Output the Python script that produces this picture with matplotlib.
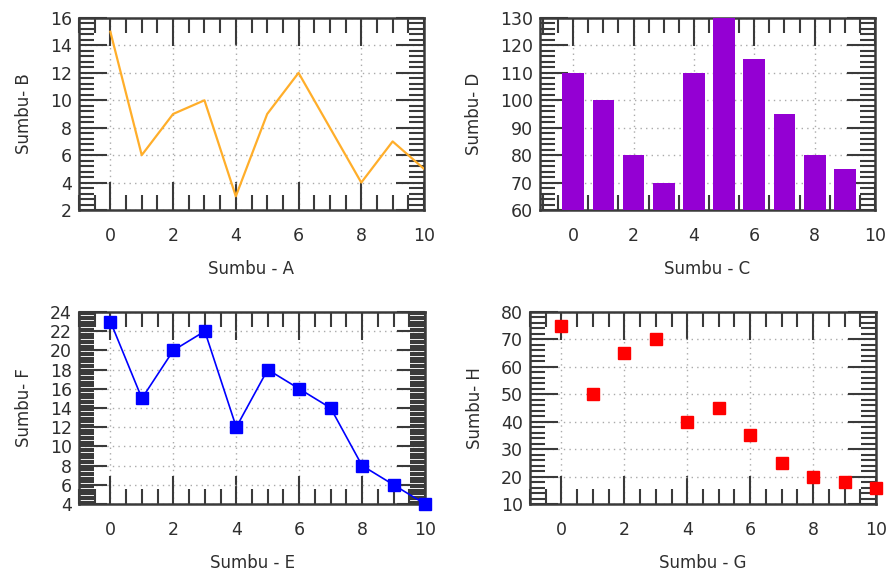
import numpy as np
import matplotlib
matplotlib.use("Agg")
import matplotlib.pyplot as plt
from matplotlib.ticker import MultipleLocator

# data
x_a = [0, 1, 2, 3, 4, 5, 6, 7, 8, 9, 10]
y_b = [15, 6, 9, 10, 3, 9, 12, 8, 4, 7, 5]

x_c = [0, 1, 2, 3, 4, 5, 6, 7, 8, 9]
y_d = [110, 100, 80, 70, 110, 130, 115, 95, 80, 75]

x_e = [0, 1, 2, 3, 4, 5, 6, 7, 8, 9, 10]
y_f = [23, 15, 20, 22, 12, 18, 16, 14, 8, 6, 4]

x_g = [0, 1, 2, 3, 4, 5, 6, 7, 8, 9, 10]
y_h = [75, 50, 65, 70, 40, 45, 35, 25, 20, 18, 16]

TXT = "#2e2e2e"
FRAME = "#3a3a3a"

plt.rcParams["font.family"] = "DejaVu Sans"

fig = plt.figure(figsize=(8.91, 5.81), dpi=100)
W, H = 891, 581


def make_axes(l, t, r, b):
    return fig.add_axes([l / W, 1 - b / H, (r - l) / W, (b - t) / H])


def style(ax, xlim, ylim, ymaj, ymin, xlabel, ylabel):
    ax.set_xlim(*xlim)
    ax.set_ylim(*ylim)
    ax.xaxis.set_major_locator(MultipleLocator(2))
    ax.xaxis.set_minor_locator(MultipleLocator(0.5))
    ax.yaxis.set_major_locator(MultipleLocator(ymaj))
    ax.yaxis.set_minor_locator(MultipleLocator(ymin))
    ax.tick_params(which="both", direction="in", top=True, right=True,
                   color=FRAME, width=1.5, labelcolor=TXT, labelsize=12.5)
    ax.tick_params(which="major", length=20)
    ax.tick_params(which="minor", length=10.5)
    ax.tick_params(axis="x", which="major", pad=12)
    ax.tick_params(axis="y", which="major", pad=5)
    for s in ax.spines.values():
        s.set_linewidth(1.8)
        s.set_color(FRAME)
    ax.grid(True, which="major", color="#aaaaaa", linestyle=(0, (1, 3)), linewidth=1)
    ax.set_axisbelow(True)
    ax.set_xlabel(xlabel, color=TXT, fontsize=12, labelpad=11)
    ax.set_ylabel(ylabel, color=TXT, fontsize=12, labelpad=12)


ax1 = make_axes(79, 18, 424, 210)
ax1.plot(x_a, y_b, color="#FFAE2A", linewidth=1.6, zorder=3)
style(ax1, (-1, 10), (2, 16), 2, 0.4, "Sumbu - A", "Sumbu- B")

ax2 = make_axes(540, 18, 875, 210)
ax2.bar(x_c, y_d, width=0.72, color="#9400D3", zorder=3)
style(ax2, (-1.1, 10), (60, 130), 10, 2, "Sumbu - C", "Sumbu- D")

ax3 = make_axes(79, 312, 425, 504)
ax3.plot(x_e, y_f, color="#0000FF", linewidth=1.2, marker="s", markersize=8.5,
         zorder=3, clip_on=False)
style(ax3, (-1, 10), (4, 24), 2, 0.25, "Sumbu - E", "Sumbu- F")

ax4 = make_axes(530, 312, 876, 504)
ax4.plot(x_g, y_h, linestyle="none", color="#FF0000", marker="s", markersize=8.5,
         zorder=3, clip_on=False)
style(ax4, (-1, 10), (10, 80), 10, 2, "Sumbu - G", "Sumbu- H")

fig.savefig("out.png", dpi=100)
